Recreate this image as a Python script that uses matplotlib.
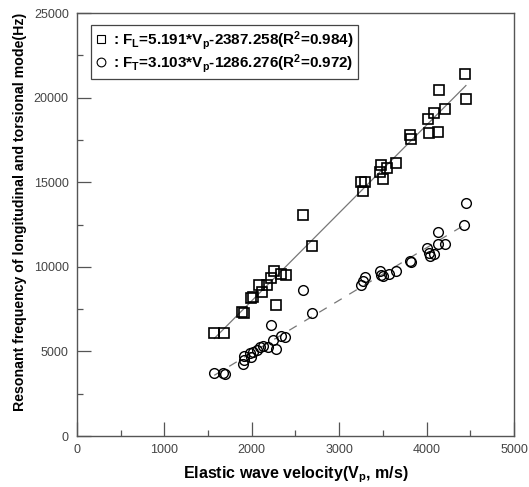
import matplotlib
matplotlib.use('Agg')
import matplotlib.pyplot as plt
import numpy as np

plt.rcParams['font.family'] = ['Liberation Sans', 'DejaVu Sans']
plt.rcParams['mathtext.default'] = 'regular'

# longitudinal mode (squares)
vp_L = [1570, 1685, 1890, 1905, 1990, 2010, 2085, 2115, 2170, 2215, 2255, 2275,
        2335, 2390, 2590, 2685, 3245, 3300, 3270, 3475, 3465, 3505, 3550, 3645,
        3810, 3820, 4015, 4030, 4085, 4125, 4140, 4205, 4435, 4450]
f_L = [6100, 6100, 7350, 7250, 8170, 8200, 8920, 8530, 8920, 9360, 9770, 7760,
       9570, 9520, 13040, 11230, 15030, 14990, 14480, 16020, 15620, 15190, 15820, 16150,
       17790, 17540, 18720, 17890, 19070, 17990, 20450, 19310, 21380, 19920]

# torsional mode (circles)
vp_T = [1570, 1675, 1690, 1895, 1910, 1905, 1990, 1980, 2015, 2065, 2095, 2130,
        2180, 2245, 2275, 2330, 2385, 2215, 2590, 2690, 3245, 3275, 3295, 3475,
        3465, 3500, 3565, 3650, 3810, 3820, 4010, 4025, 4040, 4090, 4135, 4135,
        4210, 4430, 4450]
f_T = [3700, 3700, 3660, 4250, 4490, 4750, 4650, 4920, 4980, 5080, 5280, 5320,
       5280, 5670, 5140, 5910, 5830, 6560, 8630, 7290, 8920, 9160, 9380, 9520,
       9770, 9450, 9570, 9770, 10340, 10300, 11090, 10800, 10640, 10740, 12080, 11330,
       11350, 12470, 13790]

fit_L = (5.191, -2387.258)
fit_T = (3.103, -1286.276)

fig = plt.figure(figsize=(5.29, 4.87), dpi=100)
ax = fig.add_axes([0.1456, 0.1047, 0.826, 0.8686])

xl = np.array([min(vp_L), max(vp_L)])
ax.plot(xl, fit_L[0] * xl + fit_L[1], color='#777777', lw=0.9, zorder=1)
xt = np.array([min(vp_T), max(vp_T)])
ax.plot(xt, fit_T[0] * xt + fit_T[1], color='#777777', lw=0.9,
        dashes=(7, 7), zorder=1)

sq, = ax.plot(vp_L, f_L, 's', ms=7, mfc='none', mec='black', mew=1.2, ls='none')
ci, = ax.plot(vp_T, f_T, 'o', ms=7, mfc='none', mec='black', mew=1.0, ls='none')

ax.set_xlim(0, 5000)
ax.set_ylim(0, 25000)
ax.set_xticks(np.arange(0, 5001, 1000))
ax.set_xticks(np.arange(500, 5000, 1000), minor=True)
ax.set_yticks(np.arange(0, 25001, 5000))
ax.set_yticks(np.arange(2500, 25000, 5000), minor=True)
ax.tick_params(which='major', direction='in', length=10, width=0.9,
               color='#555555', labelsize=9, labelcolor='#444444', pad=6)
ax.tick_params(which='minor', direction='in', length=4.5, width=0.9, color='#555555')
for s in ax.spines.values():
    s.set_color('#555555')
    s.set_linewidth(1.0)

ax.set_xlabel('Elastic wave velocity(V$_{p}$, m/s)', fontsize=11.5, fontweight='bold', labelpad=6)
ax.set_ylabel('Resonant frequency of longitudinal and torsional mode(Hz)',
              fontsize=10.2, fontweight='bold', labelpad=10)
ax.yaxis.set_label_coords(-0.115, 0.53)

leg = ax.legend([sq, ci],
                [': F$_{L}$=5.191*V$_{p}$-2387.258(R$^{2}$=0.984)',
                 ': F$_{T}$=3.103*V$_{p}$-1286.276(R$^{2}$=0.972)'],
                loc='upper left', bbox_to_anchor=(0.032, 0.972), borderaxespad=0,
                fancybox=False, edgecolor='#444444', framealpha=1, handlelength=0.8,
                handletextpad=0.4, borderpad=0.25, labelspacing=0.05,
                prop={'size': 11, 'weight': 'bold'}, markerscale=0.9)
leg.get_frame().set_linewidth(0.9)
for h in leg.legend_handles:
    h.set_markeredgewidth(0.8)

fig.savefig('out.png', dpi=100)
